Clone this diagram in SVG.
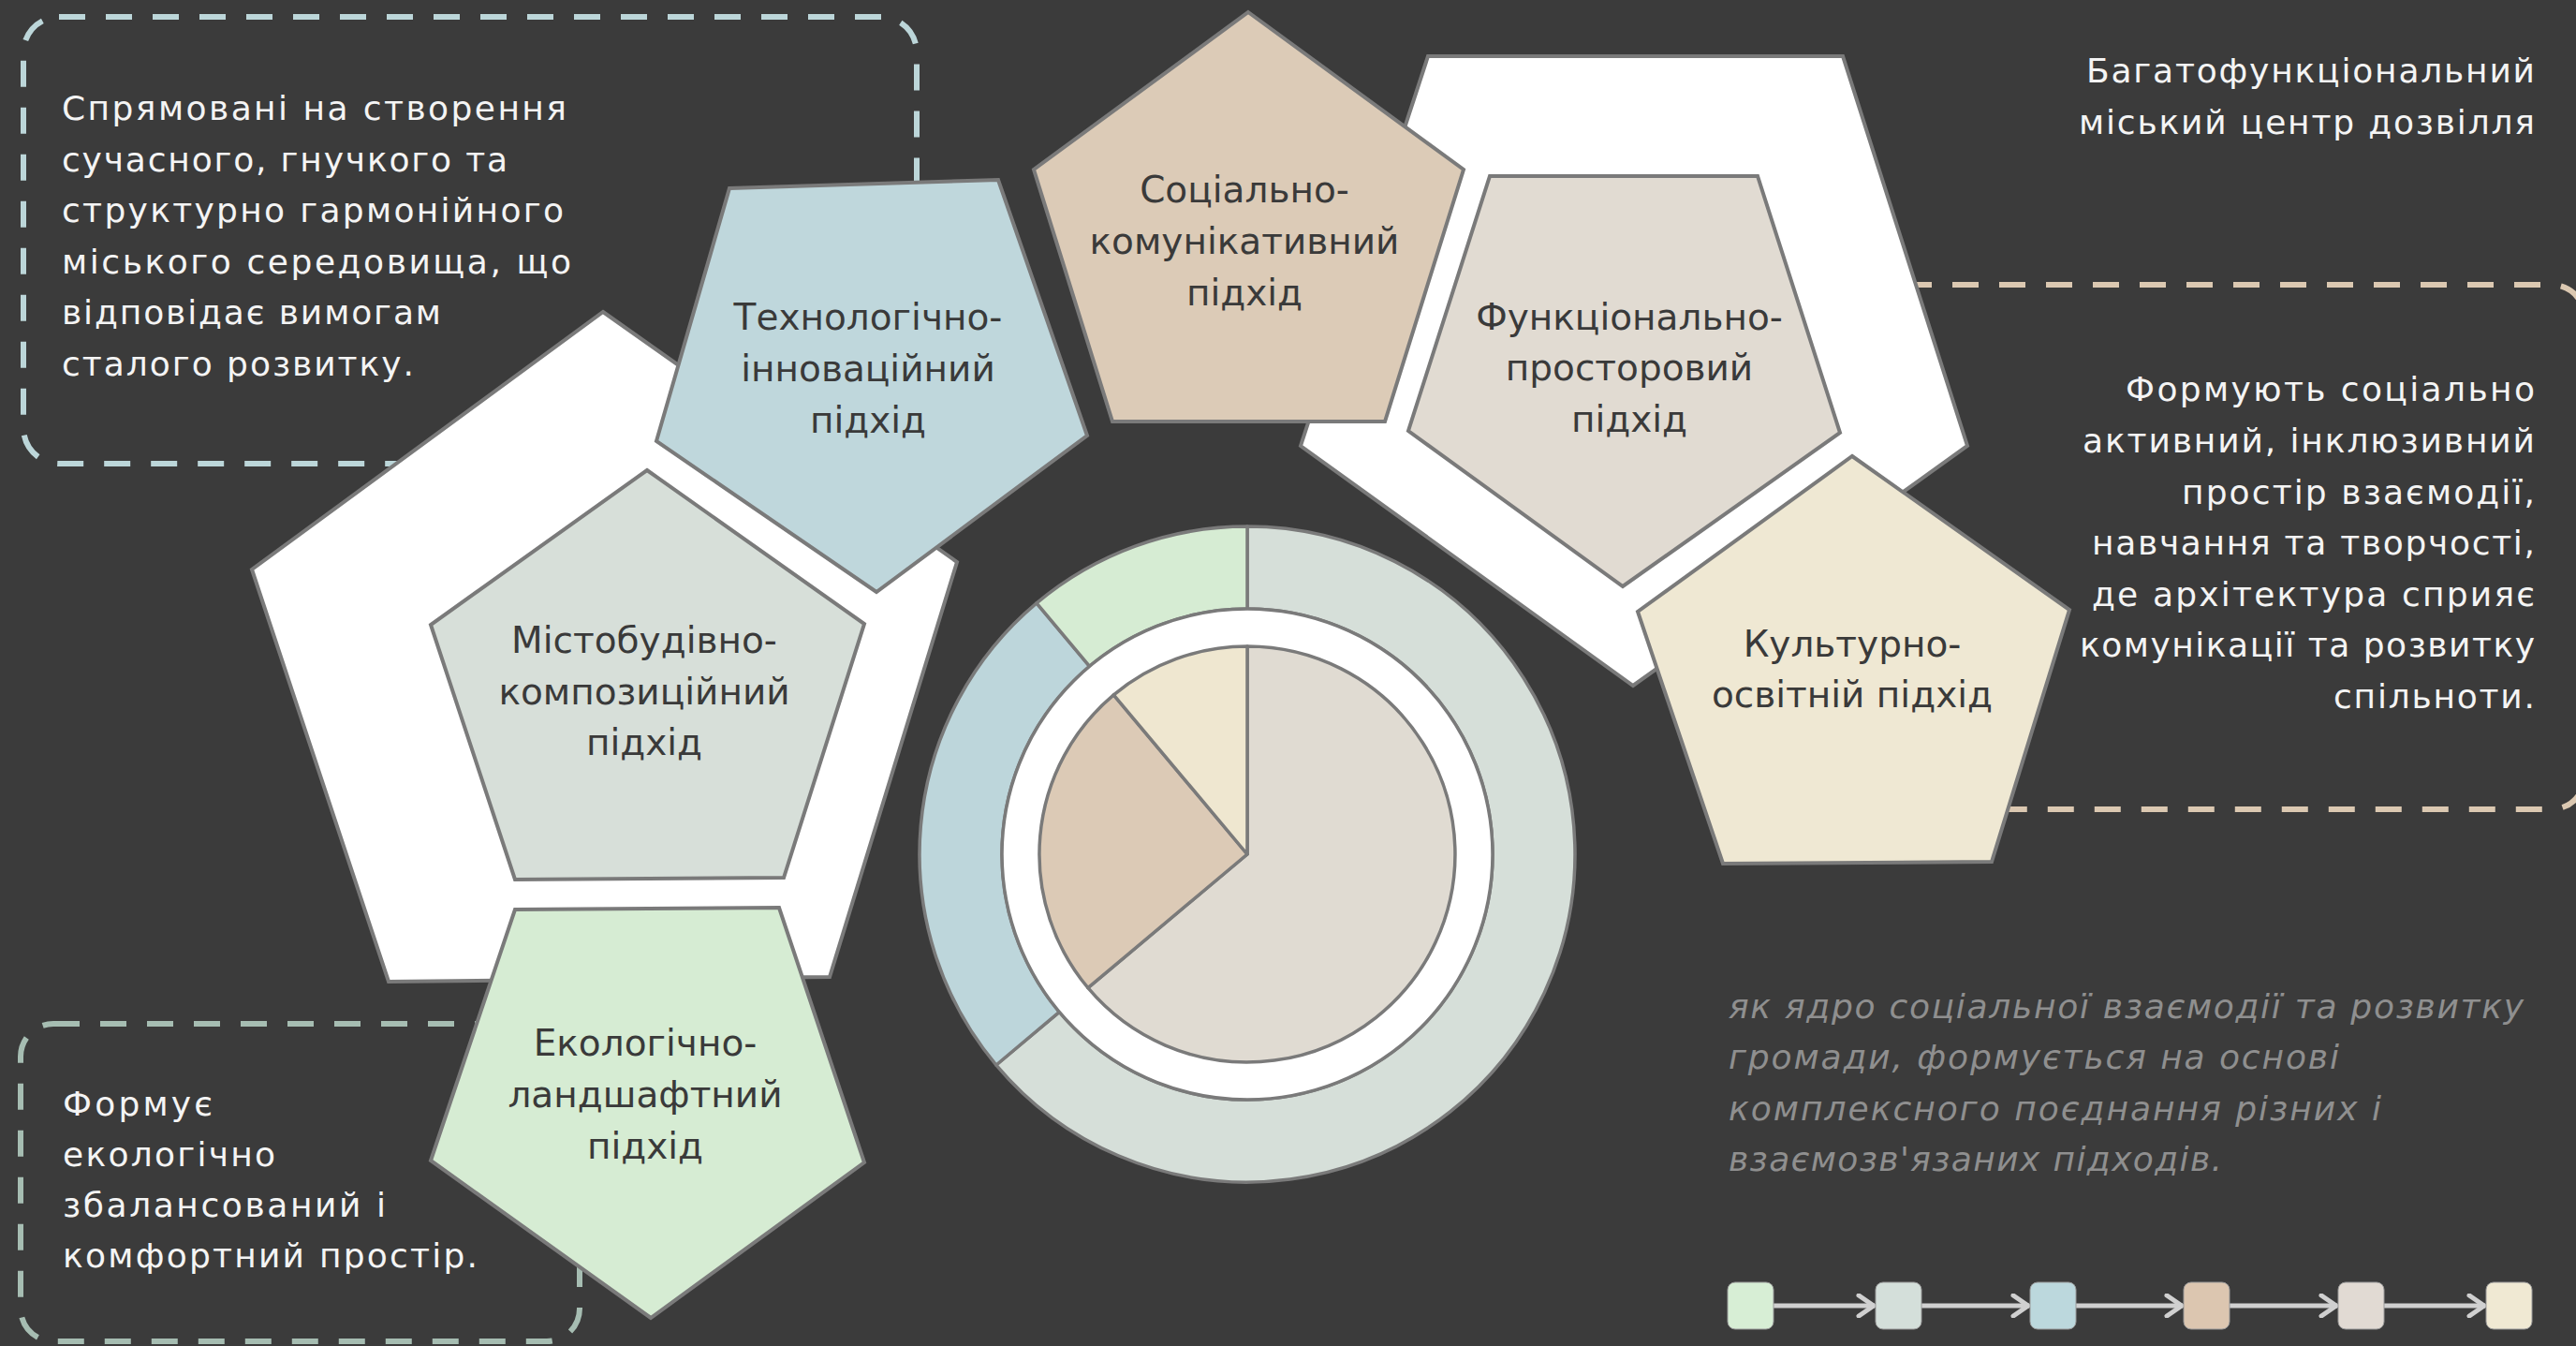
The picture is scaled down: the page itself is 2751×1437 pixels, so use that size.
<svg xmlns="http://www.w3.org/2000/svg" width="2751" height="1437" viewBox="0 0 2751 1437">
<defs>
<style>
.bg{fill:#3b3b3b}
.dash{fill:none;stroke-width:6;stroke-dasharray:28 22}
.pent{stroke:#7a7a7a;stroke-width:4;stroke-linejoin:miter}
.seg{stroke:#7a7a7a;stroke-width:3.5;stroke-linejoin:round}
.pt{font-family:"DejaVu Sans",sans-serif;font-size:39px;fill:#3a3a3a;text-anchor:middle}
.body{font-family:"DejaVu Sans",sans-serif;font-size:36px;fill:#f4f4f4}
.end{text-anchor:end}
.ital{font-family:"DejaVu Sans",sans-serif;font-size:36px;font-style:italic;fill:#8f8f8f}
.sq{stroke:#9a9a9a;stroke-width:1}
.conn{stroke:#d0d0d0;stroke-width:5;fill:none}
</style>
<marker id="chev" viewBox="0 0 22 26" refX="20" refY="13" markerWidth="22" markerHeight="26" orient="auto" markerUnits="userSpaceOnUse">
<path d="M3,2 L19,13 L3,24" fill="none" stroke="#d0d0d0" stroke-width="5" stroke-linecap="round" stroke-linejoin="round"/>
</marker>
</defs>
<rect class="bg" x="0" y="0" width="2751" height="1437"/>

<g id="box-top-left">
<rect class="dash" x="25" y="18" width="954" height="477" rx="38" stroke="#bcd6d9"/>
</g>
<g id="box-bottom-left">
<rect class="dash" x="22" y="1093" width="597" height="339" rx="35" stroke="#a6bdb2"/>
</g>
<g id="box-right">
<rect class="dash" x="1850" y="304" width="910" height="560" rx="35" stroke="#dbc8b1"/>
</g>

<g id="white-left">
<polygon class="pent" fill="#ffffff" points="644,333 1022,600 886,1043 415,1048 269,608"/>
</g>
<g id="white-right">
<polygon class="pent" fill="#ffffff" points="1525,60 1968,60 2101,476 1744,732 1389,476"/>
</g>

<g id="node-tech">
<polygon class="pent" fill="#bfd7dc" points="779,201 1066,192 1161,465 936,632 701,471"/>
<text class="pt" x="927" y="352">Технологічно-</text>
<text class="pt" x="927" y="407">інноваційний</text>
<text class="pt" x="927" y="462">підхід</text>
</g>

<g id="node-social">
<polygon class="pent" fill="#dccbb7" points="1333,13 1563,181 1479,450 1188,450 1104,181"/>
<text class="pt" x="1329" y="216">Соціально-</text>
<text class="pt" x="1329" y="271">комунікативний</text>
<text class="pt" x="1329" y="326">підхід</text>
</g>

<g id="node-functional">
<polygon class="pent" fill="#e1dbd2" points="1591,188 1877,188 1965,462 1733,626 1504,460"/>
<text class="pt" x="1740" y="352">Функціонально-</text>
<text class="pt" x="1740" y="406">просторовий</text>
<text class="pt" x="1740" y="461">підхід</text>
</g>

<g id="node-urban">
<polygon class="pent" fill="#d7dfd9" points="691,502 923,666 837,937 550,939 460,667"/>
<text class="pt" x="688" y="697">Містобудівно-</text>
<text class="pt" x="688" y="752">композиційний</text>
<text class="pt" x="688" y="806">підхід</text>
</g>

<g id="node-eco">
<polygon class="pent" fill="#d6ecd3" points="550,971 832,969 923,1241 695,1407 460,1239"/>
<text class="pt" x="689" y="1127">Екологічно-</text>
<text class="pt" x="689" y="1182">ландшафтний</text>
<text class="pt" x="689" y="1237">підхід</text>
</g>

<g id="node-culture">
<polygon class="pent" fill="#efe8d3" points="1978,487 2210,651 2127,920 1840,922 1749,653"/>
<text class="pt" x="1978" y="701">Культурно-</text>
<text class="pt" x="1978" y="755">освітній підхід</text>
</g>

<g id="donut">
<path class="seg" fill="#d6dfd9" d="M1332,562 A350,350 0 1 1 1063.9,1137 L1131.3,1080.4 A262,262 0 1 0 1332,650 Z"/>
<path class="seg" fill="#bdd6db" d="M1063.9,1137 A350,350 0 0 1 1107,643.9 L1163.6,711.3 A262,262 0 0 0 1131.3,1080.4 Z"/>
<path class="seg" fill="#d6ecd3" d="M1107,643.9 A350,350 0 0 1 1332,562 L1332,650 A262,262 0 0 0 1163.6,711.3 Z"/>
<circle class="seg" fill="#ffffff" cx="1332" cy="912" r="262"/>
<path class="seg" fill="#e0dbd2" d="M1332,912 L1332,690 A222,222 0 1 1 1161.9,1054.7 Z"/>
<path class="seg" fill="#dccab6" d="M1332,912 L1161.9,1054.7 A222,222 0 0 1 1189.3,741.9 Z"/>
<path class="seg" fill="#efe7d0" d="M1332,912 L1189.3,741.9 A222,222 0 0 1 1332,690 Z"/>
</g>

<g id="text-top-left">
<text class="body" x="66" y="128" textLength="539" lengthAdjust="spacing">Спрямовані на створення</text>
<text class="body" x="66" y="182.5" textLength="476" lengthAdjust="spacing">сучасного, гнучкого та</text>
<text class="body" x="66" y="237" textLength="536" lengthAdjust="spacing">структурно гармонійного</text>
<text class="body" x="66" y="291.5" textLength="544" lengthAdjust="spacing">міського середовища, що</text>
<text class="body" x="66" y="346" textLength="405" lengthAdjust="spacing">відповідає вимогам</text>
<text class="body" x="66" y="400.5" textLength="376" lengthAdjust="spacing">сталого розвитку.</text>
</g>

<g id="text-bottom-left">
<text class="body" x="67" y="1191" textLength="160" lengthAdjust="spacing">Формує</text>
<text class="body" x="67" y="1245" textLength="227" lengthAdjust="spacing">екологічно</text>
<text class="body" x="67" y="1299" textLength="345" lengthAdjust="spacing">збалансований і</text>
<text class="body" x="67" y="1353" textLength="443" lengthAdjust="spacing">комфортний простір.</text>
</g>

<g id="title">
<text class="body end" x="2707" y="88" textLength="479" lengthAdjust="spacing">Багатофункціональний</text>
<text class="body end" x="2707" y="143" textLength="487" lengthAdjust="spacing">міський центр дозвілля</text>
</g>

<g id="text-right">
<text class="body end" x="2707" y="428" textLength="437" lengthAdjust="spacing">Формують соціально</text>
<text class="body end" x="2707" y="483" textLength="483" lengthAdjust="spacing">активний, інклюзивний</text>
<text class="body end" x="2707" y="537.5" textLength="377" lengthAdjust="spacing">простір взаємодії,</text>
<text class="body end" x="2707" y="592" textLength="473" lengthAdjust="spacing">навчання та творчості,</text>
<text class="body end" x="2707" y="646.5" textLength="473" lengthAdjust="spacing">де архітектура сприяє</text>
<text class="body end" x="2707" y="701" textLength="486" lengthAdjust="spacing">комунікації та розвитку</text>
<text class="body end" x="2707" y="755.5" textLength="215" lengthAdjust="spacing">спільноти.</text>
</g>

<g id="text-italic">
<text class="ital" x="1846" y="1087" textLength="849" lengthAdjust="spacing">як ядро соціальної взаємодії та розвитку</text>
<text class="ital" x="1846" y="1141" textLength="652" lengthAdjust="spacing">громади, формується на основі</text>
<text class="ital" x="1846" y="1196" textLength="697" lengthAdjust="spacing">комплексного поєднання різних і</text>
<text class="ital" x="1846" y="1250" textLength="527" lengthAdjust="spacing">взаємозв'язаних підходів.</text>
</g>

<g id="connectors">
<line class="conn" x1="1894" y1="1394" x2="2002" y2="1394" marker-end="url(#chev)"/>
<line class="conn" x1="2052" y1="1394" x2="2167" y2="1394" marker-end="url(#chev)"/>
<line class="conn" x1="2217" y1="1394" x2="2331" y2="1394" marker-end="url(#chev)"/>
<line class="conn" x1="2381" y1="1394" x2="2496" y2="1394" marker-end="url(#chev)"/>
<line class="conn" x1="2546" y1="1394" x2="2654" y2="1394" marker-end="url(#chev)"/>
</g>

<g id="sq-1"><rect class="sq" x="1845" y="1369" width="49" height="50" rx="8" fill="#d7eed5"/></g>
<g id="sq-2"><rect class="sq" x="2003" y="1369" width="49" height="50" rx="8" fill="#d4dfda"/></g>
<g id="sq-3"><rect class="sq" x="2168" y="1369" width="49" height="50" rx="8" fill="#bcd8dd"/></g>
<g id="sq-4"><rect class="sq" x="2332" y="1369" width="49" height="50" rx="8" fill="#dcc6b0"/></g>
<g id="sq-5"><rect class="sq" x="2497" y="1369" width="49" height="50" rx="8" fill="#e1dad3"/></g>
<g id="sq-6"><rect class="sq" x="2655" y="1369" width="49" height="50" rx="8" fill="#f0e9d3"/></g>
</svg>
